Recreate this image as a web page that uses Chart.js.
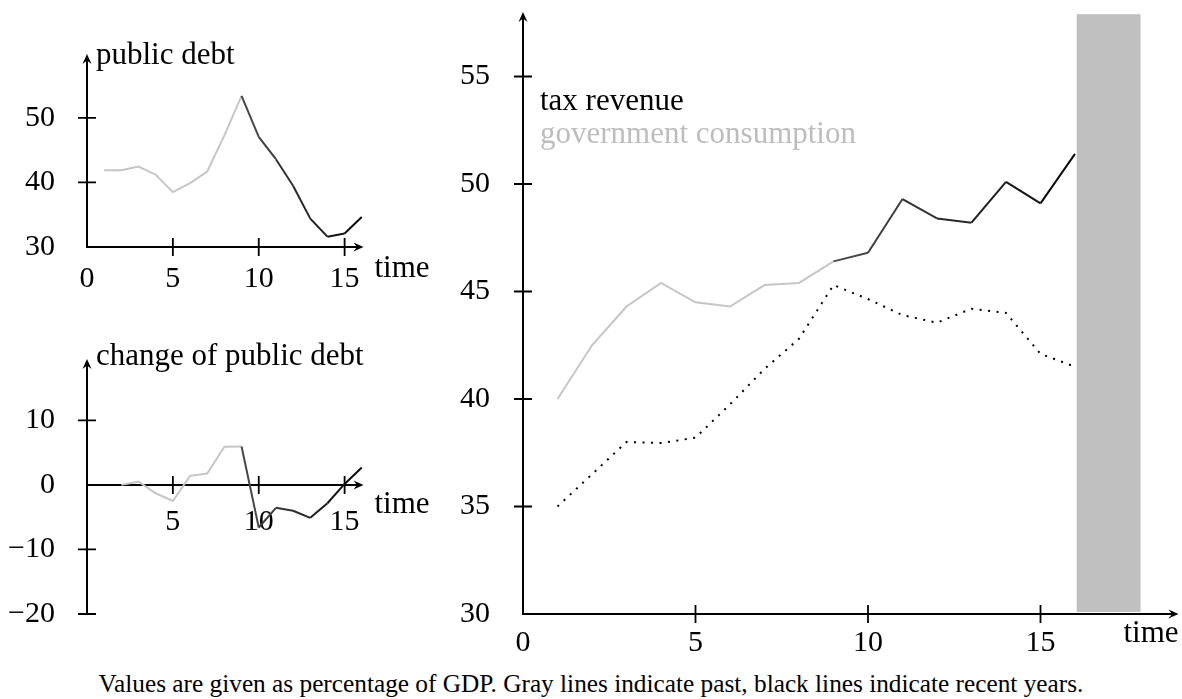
<!DOCTYPE html>
<html>
<head>
<meta charset="utf-8">
<script src="https://cdn.jsdelivr.net/npm/chart.js@4"></script>
<style>
  body { margin: 0; background: #fff; width: 1182px; height: 699px; position: relative; overflow: hidden; font-family: "Liberation Serif", serif; }
  canvas { position: absolute; }
  #caption { position: absolute; left: 0; width: 1182px; top: 671px; line-height: 25px; text-align: center; font-size: 25.3px; color: #000; white-space: nowrap; }
</style>
</head>
<body>
<canvas id="debtChart" width="430" height="300" style="left:0;top:0"></canvas>
<canvas id="changeChart" width="430" height="360" style="left:0;top:300px"></canvas>
<canvas id="budgetChart" width="752" height="660" style="left:430px;top:0"></canvas>
<div id="caption">Values are given as percentage of GDP. Gray lines indicate past, black lines indicate recent years.</div>
<script>
// ---------- Data (percent of GDP) ----------
const years = [1, 2, 3, 4, 5, 6, 7, 8, 9, 10, 11, 12, 13, 14, 15, 16];
const publicDebt = [41.9, 41.9, 42.45, 41.2, 38.5, 39.9, 41.7, 47.3, 53.4, 47.05, 43.6, 39.5, 34.4, 31.6, 32.1, 34.65];
const debtChangeYears = [2, 3, 4, 5, 6, 7, 8, 9, 10, 11, 12, 13, 14, 15, 16];
const debtChange = [0.0, 0.5, -1.3, -2.5, 1.4, 1.75, 5.9, 5.95, -6.6, -3.55, -4.0, -5.1, -2.85, 0.15, 2.7];
const taxRevenue = [40.0, 42.5, 44.3, 45.4, 44.5, 44.3, 45.3, 45.4, 46.4, 46.8, 49.3, 48.4, 48.2, 50.1, 49.1, 51.4];
const govConsumption = [35.0, 36.5, 38.0, 37.95, 38.2, 39.75, 41.4, 42.8, 45.3, 44.65, 43.9, 43.55, 44.2, 44.0, 42.1, 41.5];
const forecastBand = [16.05, 17.9];
const recentFrom = 9;

const serif = "'Liberation Serif', 'Times New Roman', serif";
const tickFont = { family: serif, size: 30 };
const pastGray = "#c6c6c6";

const pts = (xs, ys) => xs.map((x, i) => ({ x, y: ys[i] }));

// gray for the past, dark (getting blacker) for recent years
function segColor(ctx) {
  const x0 = ctx.p0.parsed.x;
  if (x0 < recentFrom) return pastGray;
  const v = Math.round(72 * (16 - x0) / (16 - recentFrom));
  return `rgb(${v},${v},${v})`;
}

function arrowHead(ctx, x, y, up) {
  ctx.save();
  ctx.translate(x, y);
  if (up) ctx.rotate(-Math.PI / 2);
  ctx.beginPath();
  ctx.moveTo(0, 0);
  ctx.lineTo(-10, -4.5);
  ctx.lineTo(-6.5, 0);
  ctx.lineTo(-10, 4.5);
  ctx.closePath();
  ctx.fill();
  ctx.restore();
}

// no extra room for half labels, the chart area is set by hand
const fixY = w => s => { s.width = w; s.paddingTop = 0; s.paddingBottom = 0; };
const fixX = h => s => { s.height = h; s.paddingLeft = 0; s.paddingRight = 0; };

// ---------- Axes with arrows, crossing ticks, texts ----------
const arrowAxes = {
  id: "arrowAxes",
  beforeDatasetsDraw(chart, args, o) {
    const { ctx, chartArea: a, scales: { x, y } } = chart;
    const axisY = y.getPixelForValue(o.xAxisAt);
    ctx.save();
    if (o.band) {
      const l = x.getPixelForValue(o.band[0]);
      const r = x.getPixelForValue(o.band[1]);
      const t = y.getPixelForValue(o.bandTop);
      ctx.fillStyle = "#c0c0c0";
      ctx.fillRect(l, t, r - l, axisY - 2 - t);
    }
    ctx.strokeStyle = "#000";
    ctx.fillStyle = "#000";
    ctx.lineWidth = 2;
    ctx.beginPath();
    ctx.moveTo(a.left, axisY);
    ctx.lineTo(a.right - 5, axisY);
    ctx.moveTo(a.left, a.bottom + 1);
    ctx.lineTo(a.left, a.top + 5);
    ctx.stroke();
    arrowHead(ctx, a.right, axisY, false);
    arrowHead(ctx, a.left, a.top, true);

    ctx.lineWidth = 1.8;
    ctx.beginPath();
    x.ticks.forEach(t => {
      if (t.value === x.min) return;
      const px = x.getPixelForValue(t.value);
      ctx.moveTo(px, axisY - 9);
      ctx.lineTo(px, axisY + 9);
    });
    y.ticks.forEach(t => {
      if (t.value === o.xAxisAt) return;
      const py = y.getPixelForValue(t.value);
      ctx.moveTo(a.left - 9, py);
      ctx.lineTo(a.left + 9, py);
    });
    ctx.stroke();
    ctx.restore();
  },
  afterDraw(chart, args, o) {
    const { ctx, chartArea: a, scales: { y } } = chart;
    const axisY = y.getPixelForValue(o.xAxisAt);
    ctx.save();
    ctx.font = `31px ${serif}`;
    ctx.textBaseline = "alphabetic";
    ctx.fillStyle = "#000";
    if (o.title) {
      ctx.textAlign = "left";
      ctx.fillText(o.title, a.left + 9, a.top + o.titleDy);
    }
    ctx.textAlign = o.timeAlign;
    ctx.fillText("time", a.right + o.timeDx, axisY + o.timeDy);
    (o.legend || []).forEach((item, i) => {
      ctx.textAlign = "left";
      ctx.fillStyle = item.color;
      ctx.fillText(item.text, a.left + 17, 110 + i * 33);
    });
    ctx.restore();
  }
};

Chart.register(arrowAxes);

const baseOptions = {
  responsive: false,
  animation: false,
  plugins: { legend: { display: false }, tooltip: { enabled: false } },
  elements: { point: { radius: 0 }, line: { borderWidth: 2, tension: 0 } }
};

// Public debt
new Chart(document.getElementById("debtChart"), {
  type: "line",
  data: {
    datasets: [{
      label: "public debt",
      data: pts(years, publicDebt),
      borderColor: pastGray,
      segment: { borderColor: segColor }
    }]
  },
  options: {
    ...baseOptions,
    layout: { padding: { top: 54, right: 66.5, bottom: 0, left: 0 } },
    plugins: { ...baseOptions.plugins, arrowAxes: { xAxisAt: 30, title: "public debt", titleDy: 10, timeAlign: "left", timeDx: 11, timeDy: 30 } },
    scales: {
      x: {
        type: "linear", min: 0, max: 16.1,
        grid: { display: false }, border: { display: false },
        ticks: { stepSize: 5, includeBounds: false, padding: 6, color: "#000", font: tickFont, maxRotation: 0 },
        afterFit: fixX(53)
      },
      y: {
        min: 30, max: 59.9,
        grid: { display: false }, border: { display: false },
        ticks: { stepSize: 10, includeBounds: false, padding: 24, color: "#000", font: tickFont },
        afterFit: fixY(87)
      }
    }
  }
});

// Change of public debt
new Chart(document.getElementById("changeChart"), {
  type: "line",
  data: {
    datasets: [{
      label: "change of public debt",
      data: pts(debtChangeYears, debtChange),
      borderColor: pastGray,
      segment: { borderColor: segColor }
    }]
  },
  options: {
    ...baseOptions,
    layout: { padding: { top: 59, right: 66.5, bottom: 46, left: 0 } },
    plugins: { ...baseOptions.plugins, arrowAxes: { xAxisAt: 0, title: "change of public debt", titleDy: 6, timeAlign: "left", timeDx: 11, timeDy: 28 } },
    scales: {
      x: {
        type: "linear", min: 0, max: 16.1, position: { y: 0 },
        grid: { display: false }, border: { display: false },
        ticks: { stepSize: 5, includeBounds: false, color: "#000", font: { ...tickFont, lineHeight: 1.75 }, maxRotation: 0,
          callback: v => v === 0 ? "" : v }
      },
      y: {
        min: -20, max: 19.5,
        grid: { display: false }, border: { display: false },
        ticks: { stepSize: 10, includeBounds: false, padding: 24, color: "#000", font: tickFont,
          callback: v => v < 0 ? "\u2212" + Math.abs(v) : v },
        afterFit: fixY(87)
      }
    }
  }
});

// Tax revenue and government consumption
new Chart(document.getElementById("budgetChart"), {
  type: "line",
  data: {
    datasets: [
      {
        label: "tax revenue",
        data: pts(years, taxRevenue),
        borderColor: pastGray,
        segment: { borderColor: segColor }
      },
      {
        label: "government consumption",
        data: pts(years, govConsumption),
        borderColor: "#000",
        borderWidth: 2,
        borderDash: [2, 6.5]
      }
    ]
  },
  options: {
    ...baseOptions,
    layout: { padding: { top: 12, right: 3.5, bottom: 0, left: 0 } },
    plugins: {
      ...baseOptions.plugins,
      arrowAxes: {
        xAxisAt: 30, band: forecastBand, bandTop: 57.9, timeAlign: "right", timeDx: 0, timeDy: 28,
        legend: [{ text: "tax revenue", color: "#000" }, { text: "government consumption", color: "#bdbdbd" }]
      }
    },
    scales: {
      x: {
        type: "linear", min: 0, max: 19,
        grid: { display: false }, border: { display: false },
        ticks: { stepSize: 5, includeBounds: false, padding: 3, color: "#000", font: tickFont, maxRotation: 0 },
        afterFit: fixX(46)
      },
      y: {
        min: 30, max: 58,
        grid: { display: false }, border: { display: false },
        ticks: { stepSize: 5, includeBounds: false, padding: 25, color: "#000", font: tickFont },
        afterFit: fixY(93)
      }
    }
  }
});
</script>
</body>
</html>
